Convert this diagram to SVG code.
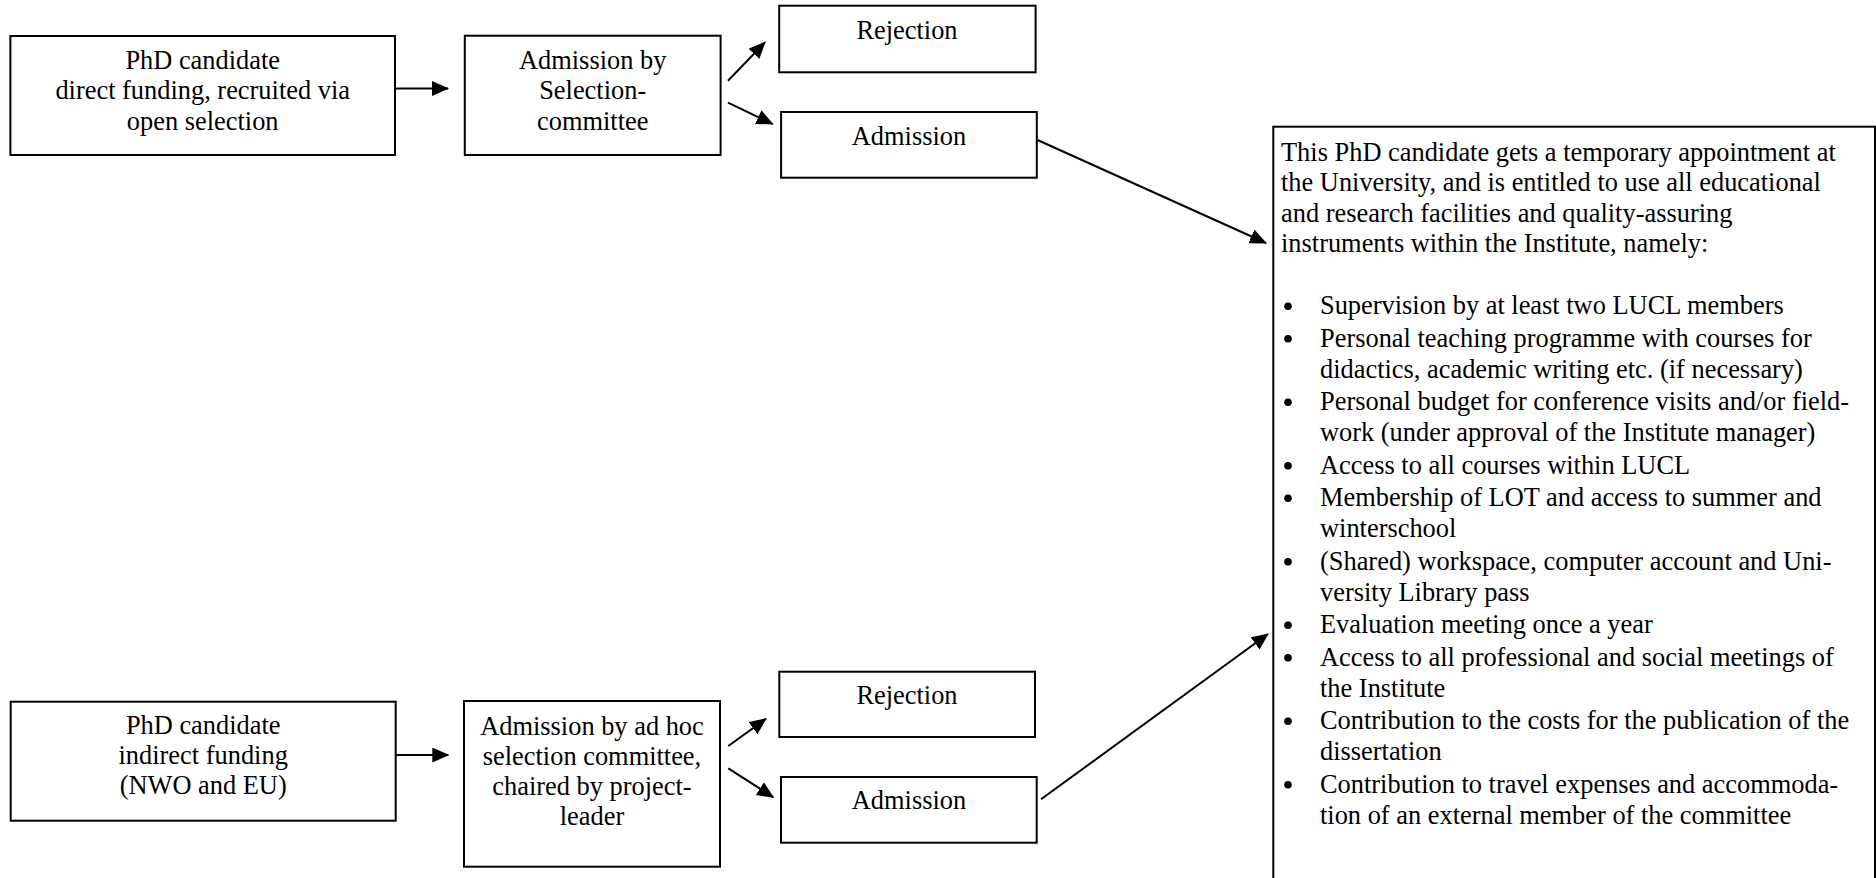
<svg xmlns="http://www.w3.org/2000/svg" width="1876" height="878" viewBox="0 0 1876 878">
<style>
.box{fill:#fff;stroke:#000;stroke-width:2}
.t{font-family:"Liberation Serif","Times New Roman",serif;fill:#000;font-size:26.4px}
.c{text-anchor:middle}
.con{stroke:#000;stroke-width:2;fill:none;marker-end:url(#ah)}
</style>
<defs>
<marker id="ah" markerUnits="userSpaceOnUse" markerWidth="18" markerHeight="16" refX="16" refY="7.5" orient="auto">
<path d="M0,0 L17,7.5 L0,15 z" fill="#000"/>
</marker>
</defs>
<rect width="1876" height="878" fill="#fff"/>

<g id="connectors">
<line class="con" x1="395" y1="88.5" x2="448" y2="88.5"/>
<line class="con" x1="728" y1="80.7" x2="765" y2="42.3"/>
<line class="con" x1="728" y1="102.7" x2="772.7" y2="124"/>
<line class="con" x1="1037.5" y1="140" x2="1266" y2="243"/>
<line class="con" x1="395.7" y1="755" x2="448.3" y2="755"/>
<line class="con" x1="728.3" y1="746" x2="766" y2="718.7"/>
<line class="con" x1="728.3" y1="768.3" x2="773.3" y2="797.3"/>
<line class="con" x1="1041" y1="799.3" x2="1268" y2="634"/>
</g>

<g id="n-direct">
<rect class="box" x="10.4" y="36" width="384.6" height="119"/>
<text class="t c"><tspan x="202.7" y="68.5">PhD candidate</tspan><tspan x="202.7" y="99">direct funding, recruited via</tspan><tspan x="202.7" y="129.5">open selection</tspan></text>
</g>

<g id="n-sel1">
<rect class="box" x="464.8" y="35.7" width="255.8" height="119.3"/>
<text class="t c"><tspan x="592.7" y="68.5">Admission by</tspan><tspan x="592.7" y="99">Selection-</tspan><tspan x="592.7" y="129.5">committee</tspan></text>
</g>

<g id="n-rej1">
<rect class="box" x="779.2" y="5.7" width="256.4" height="66.6"/>
<text class="t c" x="907" y="39">Rejection</text>
</g>

<g id="n-adm1">
<rect class="box" x="781.1" y="112" width="255.7" height="65.7"/>
<text class="t c" x="909" y="145">Admission</text>
</g>

<g id="n-indirect">
<rect class="box" x="10.7" y="701.7" width="385" height="119"/>
<text class="t c"><tspan x="203.2" y="734.3">PhD candidate</tspan><tspan x="203.2" y="764.3">indirect funding</tspan><tspan x="203.2" y="794.3">(NWO and EU)</tspan></text>
</g>

<g id="n-sel2">
<rect class="box" x="464" y="701" width="256" height="165.7"/>
<text class="t c"><tspan x="592" y="735">Admission by ad hoc</tspan><tspan x="592" y="765">selection committee,</tspan><tspan x="592" y="795">chaired by project-</tspan><tspan x="592" y="825">leader</tspan></text>
</g>

<g id="n-rej2">
<rect class="box" x="779.3" y="671.7" width="255.7" height="65.3"/>
<text class="t c" x="907" y="703.5">Rejection</text>
</g>

<g id="n-adm2">
<rect class="box" x="781" y="777" width="255.7" height="65.7"/>
<text class="t c" x="909" y="808.5">Admission</text>
</g>

<g id="n-rights">
<rect class="box" x="1273.3" y="126.7" width="601.7" height="800"/>
<text class="t">
<tspan x="1281" y="160.5">This PhD candidate gets a temporary appointment at</tspan>
<tspan x="1281" y="191">the University, and is entitled to use all educational</tspan>
<tspan x="1281" y="221.5">and research facilities and quality-assuring</tspan>
<tspan x="1281" y="252">instruments within the Institute, namely:</tspan>
</text>
<g fill="#000">
<circle cx="1288" cy="306.3" r="3.8"/>
<circle cx="1288" cy="338.8" r="3.8"/>
<circle cx="1288" cy="402.3" r="3.8"/>
<circle cx="1288" cy="465.8" r="3.8"/>
<circle cx="1288" cy="498.3" r="3.8"/>
<circle cx="1288" cy="561.8" r="3.8"/>
<circle cx="1288" cy="625.3" r="3.8"/>
<circle cx="1288" cy="657.8" r="3.8"/>
<circle cx="1288" cy="721.3" r="3.8"/>
<circle cx="1288" cy="784.8" r="3.8"/>
</g>
<text class="t">
<tspan x="1320" y="314.3">Supervision by at least two LUCL members</tspan>
<tspan x="1320" y="346.8">Personal teaching programme with courses for</tspan>
<tspan x="1320" y="377.8">didactics, academic writing etc. (if necessary)</tspan>
<tspan x="1320" y="410.3">Personal budget for conference visits and/or field-</tspan>
<tspan x="1320" y="441.3">work (under approval of the Institute manager)</tspan>
<tspan x="1320" y="473.8">Access to all courses within LUCL</tspan>
<tspan x="1320" y="506.3">Membership of LOT and access to summer and</tspan>
<tspan x="1320" y="537.3">winterschool</tspan>
<tspan x="1320" y="569.8">(Shared) workspace, computer account and Uni-</tspan>
<tspan x="1320" y="600.8">versity Library pass</tspan>
<tspan x="1320" y="633.3">Evaluation meeting once a year</tspan>
<tspan x="1320" y="665.8">Access to all professional and social meetings of</tspan>
<tspan x="1320" y="696.8">the Institute</tspan>
<tspan x="1320" y="729.3">Contribution to the costs for the publication of the</tspan>
<tspan x="1320" y="760.3">dissertation</tspan>
<tspan x="1320" y="792.8">Contribution to travel expenses and accommoda-</tspan>
<tspan x="1320" y="823.8">tion of an external member of the committee</tspan>
</text>
</g>
</svg>
